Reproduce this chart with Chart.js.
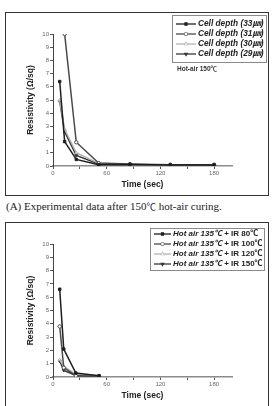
<!DOCTYPE html>
<html>
<head>
<meta charset="utf-8">
<script src="https://cdn.jsdelivr.net/npm/chart.js@4.4.1/dist/chart.umd.min.js"></script>
<style>
  html, body { margin: 0; padding: 0; background: #fff; width: 274px; height: 406px; overflow: hidden; }
  .frame { position: absolute; left: 5px; width: 262px; border: 1px solid #333; background: #fff; }
  .frame canvas { display: block; }
  #frameA { top: 12px; height: 182px; }
  #frameB { top: 222px; height: 190px; }
  .caption { position: absolute; left: 6px; top: 199px; font: 11px "Liberation Serif", "Noto Sans CJK SC", serif; color: #222; white-space: nowrap; }
  .caption .deg { font-size: 9.5px; }
</style>
</head>
<body>
<div class="frame" id="frameA"><canvas id="chart-a" width="262" height="182"></canvas></div>
<div class="caption">(A) Experimental data after 150<span class="deg">℃</span> hot-air curing.</div>
<div class="frame" id="frameB"><canvas id="chart-b" width="262" height="183"></canvas></div>
<script>
// (A) hot-air 150℃, per cell depth
const timesA   = [7.5, 13, 26, 51, 86, 131, 180];
const depth33  = [6.4, 1.85, 0.5, 0.1, 0.12, 0.08, 0.08];
const depth31  = [null, 10, 1.8, 0.22, 0.15, 0.1, 0.1];
const depth30  = [5.0, 2.8, 1.0, 0.2, 0.12, 0.08, 0.08];
const depth29  = [4.9, 2.6, 0.8, 0.15, 0.1, 0.06, 0.06];
const labelsA  = ['Cell depth (33㎛)', 'Cell depth (31㎛)', 'Cell depth (30㎛)', 'Cell depth (29㎛)'];

// (B) hot-air 135℃ + IR
const timesB   = [7.5, 12, 25.5, 51.5];
const ir80     = [6.6, 2.1, 0.3, 0.1];
const ir100    = [3.8, 0.7, 0.1, 0.05];
const ir120    = [1.3, 0.8, 0.2, 0.1];
const ir150    = [1.2, 0.5, 0.12, 0.05];
const labelsB  = ['Hot air 135℃|+ IR 80℃', 'Hot air 135℃|+ IR 100℃', 'Hot air 135℃|+ IR 120℃', 'Hot air 135℃|+ IR 150℃'];

const xTicks = [0, 30, 60, 90, 120, 150, 180];
const SANS = '"Liberation Sans", Arial, "Noto Sans CJK KR", sans-serif';

const STYLES = [
    { color: '#1e1e1e', pointStyle: 'rect',     rotation: 0,   fill: true  },
    { color: '#4a4a4a', pointStyle: 'circle',   rotation: 0,   fill: false },
    { color: '#b4b4b4', pointStyle: 'triangle', rotation: 0,   fill: false },
    { color: '#383838', pointStyle: 'triangle', rotation: 180, fill: true  },
];

function makeDatasets(times, series, labels) {
    return series.map((vals, i) => {
        const s = STYLES[i];
        return {
            label:            labels[i],
            data:             times.map((t, k) => vals[k] == null ? null : { x: t, y: vals[k] }).filter(Boolean),
            borderColor:      s.color,
            backgroundColor:  s.fill ? s.color : '#fff',
            borderWidth:      1.5,
            pointStyle:       s.pointStyle,
            pointRotation:    s.rotation,
            pointRadius:      1.7,
            pointBorderWidth: 1,
            showLine:         true,
            tension:          0,
        };
    });
}

const boxLegend = {
    id: 'boxLegend',
    afterDraw(chart, args, opts) {
        const ctx = chart.ctx;
        ctx.save();
        ctx.strokeStyle = '#8a8a8a';
        ctx.lineWidth = 1;
        ctx.strokeRect(opts.x + 0.5, opts.y + 0.5, opts.w, opts.h);
        chart.data.datasets.forEach((ds, i) => {
            const y = opts.y + opts.firstRow + i * opts.rowH;
            const x0 = opts.x + 4;
            const x1 = x0 + opts.lineLen;
            ctx.strokeStyle = ds.borderColor;
            ctx.lineWidth = 1.3;
            ctx.beginPath();
            ctx.moveTo(x0, y);
            ctx.lineTo(x1, y);
            ctx.stroke();
            ctx.fillStyle = ds.backgroundColor;
            Chart.helpers.drawPoint(ctx, { pointStyle: ds.pointStyle, rotation: ds.pointRotation, radius: 1.4, borderWidth: 1 }, (x0 + x1) / 2, y);
            ctx.fill();
            const parts = ds.label.split('|');
            ctx.fillStyle = '#222';
            ctx.textBaseline = 'middle';
            ctx.font = 'italic bold ' + opts.fontSize + 'px ' + SANS;
            let tx = x1 + 2;
            ctx.fillText(parts[0], tx, y);
            if (parts[1]) {
                tx += ctx.measureText(parts[0] + ' ').width;
                ctx.font = 'bold ' + opts.fontSize + 'px ' + SANS;
                ctx.fillText(parts[1], tx, y);
            }
        });
        if (opts.note) {
            ctx.fillStyle = '#333';
            ctx.font = 'bold 6.5px ' + SANS;
            ctx.textBaseline = 'middle';
            ctx.fillText(opts.note, opts.noteX, opts.noteY);
        }
        ctx.restore();
    }
};

function makeOptions(legendOpts) {
    return {
        responsive: false,
        animation:  false,
        layout:     { padding: { left: 20, right: 36, top: 21, bottom: 0 } },
        plugins: {
            legend:    { display: false },
            tooltip:   { enabled: false },
            boxLegend: legendOpts,
        },
        scales: {
            x: {
                type: 'linear',
                min:  0,
                max:  200,
                afterBuildTicks: scale => { scale.ticks = xTicks.map(v => ({ value: v })); },
                afterFit: scale => { scale.height = 29; },
                ticks:  { color: '#666', font: { size: 6, family: SANS }, padding: 1, maxRotation: 0, autoSkip: false,
                          callback: v => (v % 60 === 0 ? v : '') },
                grid:   { drawOnChartArea: false, tickLength: 3, color: '#555' },
                border: { color: '#8c8c8c', width: 1.5 },
                title:  { display: true, text: 'Time (sec)', color: '#222', font: { size: 8.5, weight: 'bold', family: SANS }, padding: { top: 0, bottom: 5 } },
            },
            y: {
                min: 0,
                max: 10,
                afterFit: scale => { scale.width = 27; },
                ticks:  { stepSize: 1, color: '#666', font: { size: 6, family: SANS }, padding: 1 },
                grid:   { drawOnChartArea: false, tickLength: 3, color: '#555' },
                border: { color: '#444', width: 1 },
                title:  { display: true, text: 'Resistivity (Ω/sq)', color: '#222', font: { size: 8.5, weight: 'bold', family: SANS }, padding: { top: 0, bottom: 2 } },
            }
        }
    };
}

new Chart(document.getElementById('chart-a'), {
    type: 'scatter',
    data: { datasets: makeDatasets(timesA, [depth33, depth31, depth30, depth29], labelsA) },
    options: makeOptions({ x: 166, y: 2, w: 94, h: 47, firstRow: 9, rowH: 10, lineLen: 20, fontSize: 8.3,
                           note: 'Hot-air 150℃', noteX: 171, noteY: 56 }),
    plugins: [boxLegend],
});

new Chart(document.getElementById('chart-b'), {
    type: 'scatter',
    data: { datasets: makeDatasets(timesB, [ir80, ir100, ir120, ir150], labelsB) },
    options: makeOptions({ x: 144, y: 5, w: 114, h: 42, firstRow: 6, rowH: 10, lineLen: 17, fontSize: 8 }),
    plugins: [boxLegend],
});
</script>
</body>
</html>
